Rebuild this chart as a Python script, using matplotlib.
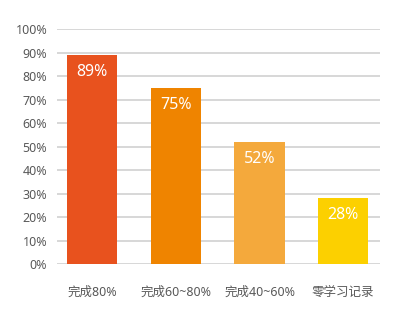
import matplotlib
matplotlib.use('Agg')
import matplotlib.pyplot as plt
from matplotlib.ticker import FuncFormatter

plt.rcParams['font.family'] = ['Noto Sans', 'Noto Sans CJK SC']

categories = ['完成80%', '完成60~80%', '完成40~60%', '零学习记录']
values = [89, 75, 52, 28]
colors = ['#E8521E', '#EF8400', '#F4A93C', '#FCD000']

fig = plt.figure(figsize=(4, 3.2), dpi=100)
ax = fig.add_axes([0.1425, 0.175, 0.8075, 0.734])

x = list(range(len(categories)))
bars = ax.bar(x, values, width=0.6, color=colors, zorder=3)

for bar, v in zip(bars, values):
    ax.annotate(f'{v}%', (bar.get_x() + bar.get_width() / 2, v),
                xytext=(0, -6.5), textcoords='offset points',
                ha='center', va='top', color='white', fontsize=11.5, zorder=4)

ax.set_ylim(0, 100)
ax.set_yticks(range(0, 101, 10))
ax.yaxis.set_major_formatter(FuncFormatter(lambda y, _: f'{int(y)}%'))
ax.set_xlim(-0.42, 3.44)
ax.set_xticks(x)
ax.set_xticklabels(categories)

ax.grid(axis='y', color='#D4D4D4', linewidth=1.3, zorder=0)
for s in ax.spines.values():
    s.set_visible(False)
ax.tick_params(axis='both', length=0, colors='#595959', labelsize=9)
ax.tick_params(axis='y', pad=7)
ax.tick_params(axis='x', pad=16)

plt.savefig('out.png', dpi=100)
